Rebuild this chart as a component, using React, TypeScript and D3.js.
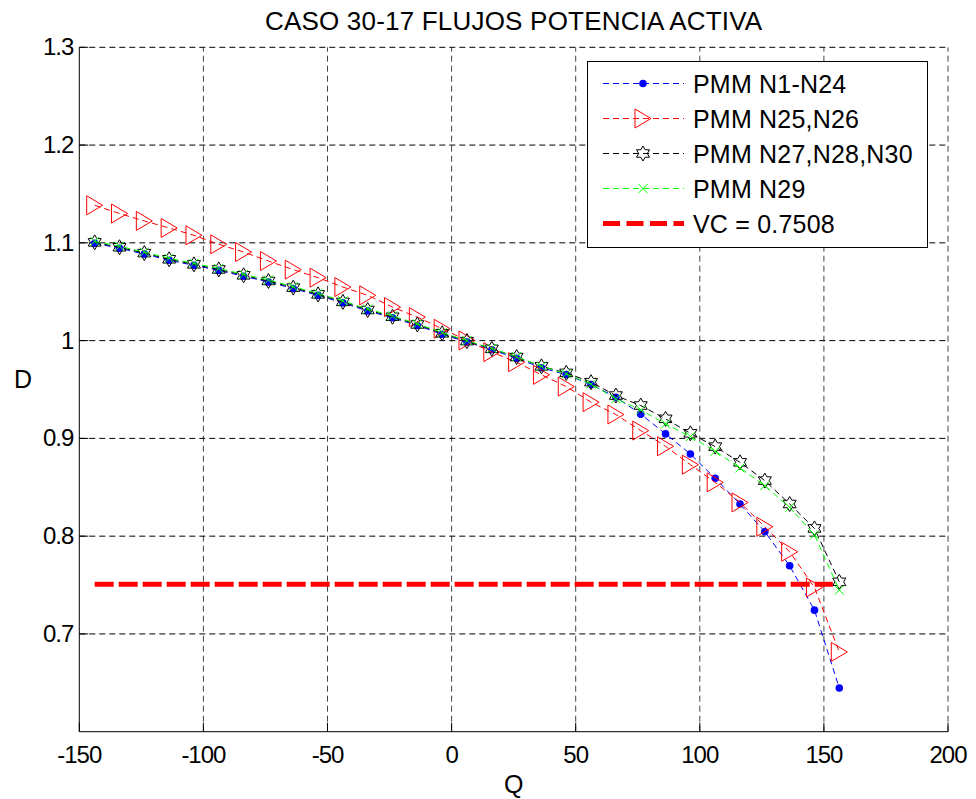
import React, { useEffect, useRef } from "react";
import * as d3 from "d3";

// Q values, shared by all four series
const qValues = [-143.8, -133.8, -123.8, -113.8, -103.8, -93.8, -83.8, -73.8, -63.8, -53.8, -43.8,
  -33.8, -23.8, -13.8, -3.8, 6.2, 16.2, 26.2, 36.2, 46.2, 56.2, 66.2, 76.2, 86.2, 96.2,
  106.2, 116.2, 126.2, 136.2, 146.2, 156.2];

const dN1N24 = [1.0995, 1.0945, 1.0885, 1.0822, 1.0770, 1.0718, 1.0658, 1.0600, 1.0532, 1.0463, 1.0386,
  1.0303, 1.0234, 1.0155, 1.0065, 0.9985, 0.9906, 0.9820, 0.9722, 0.9653, 0.9551, 0.9421, 0.9248,
  0.9046, 0.8841, 0.8591, 0.8329, 0.8045, 0.7697, 0.7243, 0.6447];

const dN25N26 = [1.1384, 1.1300, 1.1224, 1.1152, 1.1077, 1.0985, 1.0906, 1.0814, 1.0726, 1.0644, 1.0548,
  1.0463, 1.0343, 1.0240, 1.0121, 1.0002, 0.9882, 0.9779, 0.9650, 0.9530, 0.9370, 0.9244, 0.9080,
  0.8919, 0.8731, 0.8550, 0.8345, 0.8096, 0.7840, 0.7475, 0.6816];

const dN27N28N30 = [1.1005, 1.0955, 1.0895, 1.0832, 1.0780, 1.0728, 1.0668, 1.0610, 1.0542, 1.0473, 1.0396,
  1.0313, 1.0244, 1.0165, 1.0075, 0.9995, 0.9916, 0.9832, 0.9737, 0.9670, 0.9575, 0.9438, 0.9336,
  0.9200, 0.9052, 0.8916, 0.8755, 0.8568, 0.8329, 0.8079, 0.7533];

const dN29 = [1.1015, 1.0965, 1.0905, 1.0842, 1.0790, 1.0738, 1.0678, 1.0620, 1.0552, 1.0483, 1.0406,
  1.0323, 1.0252, 1.0172, 1.0082, 1.0000, 0.9920, 0.9835, 0.9738, 0.9660, 0.9555, 0.9405, 0.9292,
  0.9148, 0.9018, 0.8868, 0.8698, 0.8516, 0.8294, 0.8014, 0.7448];

// critical value line
const vcValue = 0.7508;
const vcQRange = [-143.8, 153.6];

const xTicks = [-150, -100, -50, 0, 50, 100, 150, 200];
const yTicks = [0.7, 0.8, 0.9, 1, 1.1, 1.2, 1.3];

const seriesLabels = ["PMM N1-N24", "PMM N25,N26", "PMM N27,N28,N30", "PMM N29"];
const vcLabel = "VC = 0.7508";

const W = 976;
const H = 799;
const FONT = "'Liberation Sans', Arial, sans-serif";

// six pointed star, like matlab's hexagram marker
function hexagram(R: number) {
  const r = R / Math.sqrt(3);
  const pts: [number, number][] = [];
  for (let k = 0; k < 12; k++) {
    const a = -Math.PI / 2 + (k * Math.PI) / 6;
    const rr = k % 2 === 0 ? R : r;
    pts.push([rr * Math.cos(a), rr * Math.sin(a)]);
  }
  return "M" + pts.map(p => p.join(",")).join("L") + "Z";
}

function drawMarker(g: any, type: string, x: number, y: number, color: string) {
  if (type === "dot") {
    g.append("circle").attr("cx", x).attr("cy", y).attr("r", 3.8).attr("fill", color);
  } else if (type === "tri") {
    const w = 16, h = 19;
    g.append("path")
      .attr("d", `M${x - w / 2},${y - h / 2}L${x + w / 2},${y}L${x - w / 2},${y + h / 2}Z`)
      .attr("fill", "none").attr("stroke", color).attr("stroke-width", 1);
  } else if (type === "star") {
    g.append("path")
      .attr("d", hexagram(7.5)).attr("transform", `translate(${x},${y})`)
      .attr("fill", "none").attr("stroke", color).attr("stroke-width", 1);
  } else if (type === "x") {
    const s = 4.5;
    g.append("path")
      .attr("d", `M${x - s},${y - s}L${x + s},${y + s}M${x - s},${y + s}L${x + s},${y - s}`)
      .attr("stroke", color).attr("stroke-width", 1);
  }
}

export default function App() {
  const ref = useRef<SVGSVGElement>(null);

  useEffect(() => {
    document.body.style.margin = "0";
    const svg = d3.select(ref.current);
    svg.selectAll("*").remove();

    const margin = { top: 47.3, right: 28, bottom: 67.3, left: 79.3 };
    const x = d3.scaleLinear().domain([-150, 200]).range([margin.left, W - margin.right]);
    const y = d3.scaleLinear().domain([0.6, 1.3]).range([H - margin.bottom, margin.top]);

    svg.append("rect").attr("width", W).attr("height", H).attr("fill", "white");

    // grid
    const grid = svg.append("g").attr("stroke", "#000").attr("stroke-width", 1).attr("stroke-dasharray", "6,4");
    xTicks.slice(1).forEach(t => {
      grid.append("line").attr("x1", x(t)).attr("x2", x(t)).attr("y1", y(0.6)).attr("y2", y(1.3)).attr("stroke", "#444");
    });
    yTicks.forEach(t => {
      grid.append("line").attr("x1", x(-150)).attr("x2", x(200)).attr("y1", y(t)).attr("y2", y(t));
    });

    // axes (left + bottom only, ticks pointing in)
    svg.append("line").attr("x1", x(-150)).attr("x2", x(-150)).attr("y1", y(0.6)).attr("y2", y(1.3))
      .attr("stroke", "#000");
    svg.append("line").attr("x1", x(-150)).attr("x2", x(200)).attr("y1", y(0.6)).attr("y2", y(0.6))
      .attr("stroke", "#000");
    xTicks.forEach(t => {
      svg.append("line").attr("x1", x(t)).attr("x2", x(t)).attr("y1", y(0.6)).attr("y2", y(0.6) - 9)
        .attr("stroke", "#000");
      svg.append("text").attr("x", x(t)).attr("y", y(0.6) + 31)
        .attr("text-anchor", "middle").attr("font-family", FONT).attr("font-size", 24)
        .attr("letter-spacing", -1).text(String(t));
    });
    yTicks.forEach(t => {
      svg.append("line").attr("x1", x(-150)).attr("x2", x(-150) + 9).attr("y1", y(t)).attr("y2", y(t))
        .attr("stroke", "#000");
      svg.append("text").attr("x", x(-150) - 6).attr("y", y(t) + 8)
        .attr("text-anchor", "end").attr("font-family", FONT).attr("font-size", 24)
        .attr("letter-spacing", -1).text(String(t));
    });

    // title and axis labels
    svg.append("text").attr("x", (x(-150) + x(200)) / 2).attr("y", 30)
      .attr("text-anchor", "middle").attr("font-family", FONT).attr("font-size", 26)
      .attr("letter-spacing", 0.2).text("CASO 30-17 FLUJOS POTENCIA ACTIVA");
    svg.append("text").attr("x", 23).attr("y", 388).attr("text-anchor", "middle")
      .attr("font-family", FONT).attr("font-size", 25).text("D");
    svg.append("text").attr("x", x(25)).attr("y", 793).attr("text-anchor", "middle")
      .attr("font-family", FONT).attr("font-size", 25).text("Q");

    const series = [
      { vals: dN1N24, color: "#0000ff", marker: "dot" },
      { vals: dN25N26, color: "#ff0000", marker: "tri" },
      { vals: dN27N28N30, color: "#000000", marker: "star" },
      { vals: dN29, color: "#00ff00", marker: "x" },
    ];

    const line = d3.line<number>().x((_, i) => x(qValues[i])).y(d => y(d));

    series.forEach(s => {
      const g = svg.append("g");
      g.append("path").attr("d", line(s.vals)).attr("fill", "none").attr("stroke", s.color)
        .attr("stroke-width", 1).attr("stroke-dasharray", "6,4");
      s.vals.forEach((v, i) => drawMarker(g, s.marker, x(qValues[i]), y(v), s.color));
    });

    // VC line
    svg.append("line").attr("x1", x(vcQRange[0])).attr("x2", x(vcQRange[1]))
      .attr("y1", y(vcValue)).attr("y2", y(vcValue))
      .attr("stroke", "#ff0000").attr("stroke-width", 5).attr("stroke-dasharray", "19,5");

    // legend
    const lg = svg.append("g");
    lg.append("rect").attr("x", 587.5).attr("y", 61.5).attr("width", 340).attr("height", 186)
      .attr("fill", "white").attr("stroke", "#000").attr("stroke-width", 1);
    const rowY = (i: number) => 83.5 + i * 35;
    series.forEach((s, i) => {
      lg.append("line").attr("x1", 603).attr("x2", 684).attr("y1", rowY(i)).attr("y2", rowY(i))
        .attr("stroke", s.color).attr("stroke-dasharray", "6,4");
      drawMarker(lg, s.marker, 643, rowY(i), s.color);
      lg.append("text").attr("x", 693).attr("y", rowY(i) + 9).attr("font-family", FONT)
        .attr("font-size", 25).attr("letter-spacing", 0.2).text(seriesLabels[i]);
    });
    lg.append("line").attr("x1", 603).attr("x2", 684).attr("y1", rowY(4)).attr("y2", rowY(4))
      .attr("stroke", "#ff0000").attr("stroke-width", 5).attr("stroke-dasharray", "17,6.5");
    lg.append("text").attr("x", 693).attr("y", rowY(4) + 9).attr("font-family", FONT)
      .attr("font-size", 25).attr("letter-spacing", 0.2).text(vcLabel);
  }, []);

  return <svg ref={ref} width={W} height={H} style={{ display: "block" }} />;
}
